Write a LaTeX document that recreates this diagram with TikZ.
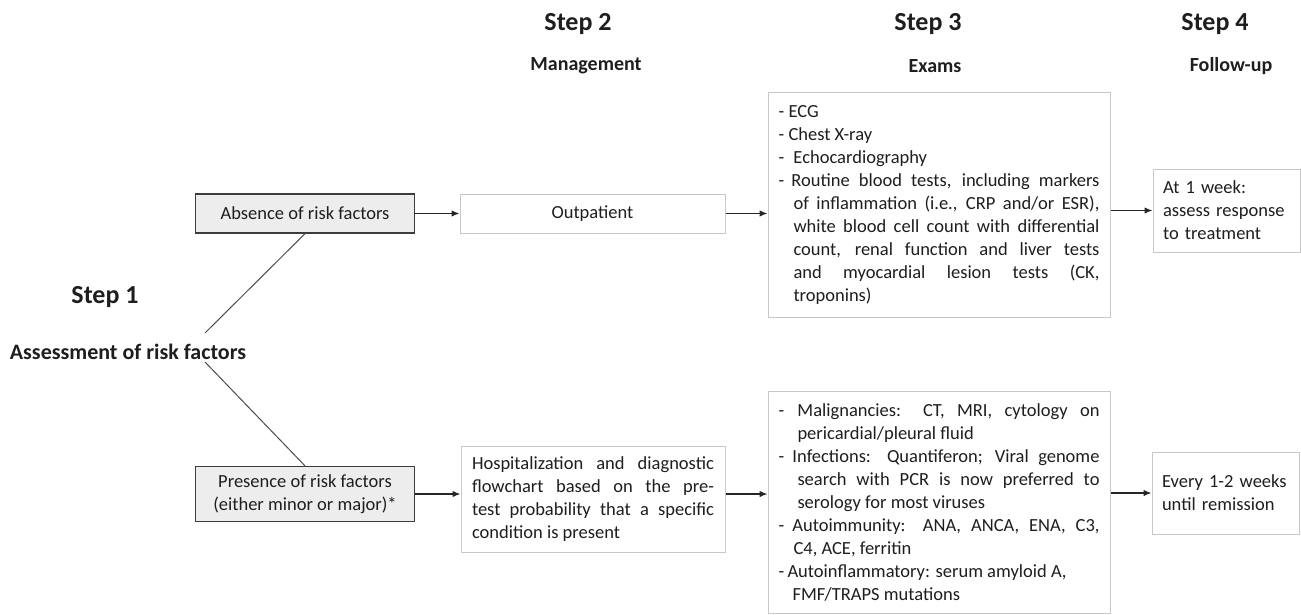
\documentclass[tikz,border=0pt]{standalone}
\usepackage{fontspec}
\setmainfont{Carlito}
\usepackage{xcolor}
\usepackage{tikz}
\usetikzlibrary{arrows.meta,calc,positioning}
\definecolor{riskfill}{RGB}{237,237,237}
\definecolor{riskline}{RGB}{60,60,60}
\definecolor{boxline}{RGB}{200,200,200}
\definecolor{inkgray}{RGB}{30,30,30}
\newcommand{\bodyfont}{\fontsize{18.5}{23}\selectfont\tolerance=10000\hbadness=10000}
\newcommand{\examitem}[3]{\hangindent=#1pt\hangafter=1\noindent\makebox[#2pt][l]{-}#3\par}

\begin{document}
\begin{tikzpicture}[
    x=1pt, y=-1pt,
    every node/.style={text=inkgray},
    steptitle/.style={font=\fontsize{26}{30}\selectfont\bfseries},
    stepsub/.style={font=\fontsize{20}{24}\selectfont\bfseries},
    riskbox/.style={rectangle, draw=riskline, fill=riskfill, line width=1.3pt, font=\bodyfont, align=center, minimum width=219pt, inner sep=0pt},
    plainbox/.style={rectangle, draw=boxline, fill=white, line width=1pt, font=\bodyfont},
    examtext/.style={plainbox, text width=321pt, align=justify, inner xsep=10.5pt},
    fupbox/.style={plainbox, text width=127pt, align=left, inner xsep=10pt},
    flow/.style={-{Latex[length=8pt,width=6.5pt]}, line width=1.3pt, draw=black!85},
    branch/.style={line width=1pt, draw=black!70}
]
\useasboundingbox (0,0) rectangle (1301,615);

% Headings
\node[steptitle] (step1) at (105,297) {Step 1};
\node[stepsub, font=\fontsize{22}{26}\selectfont\bfseries] (assess) at (128,352) {Assessment of risk factors};
\node[steptitle] (step2) at (578,24) {Step 2};
\node[stepsub] (manage) at (586,66) {Management};
\node[steptitle] (step3) at (928,24) {Step 3};
\node[stepsub] (exams) at (935,66) {Exams};
\node[steptitle] (step4) at (1215,24) {Step 4};
\node[stepsub] (follow) at (1231,66) {Follow-up};

% Nodes
\node[riskbox, minimum height=39pt] (absent) at (305,213.5) {Absence of risk factors};
\node[riskbox, minimum height=55pt] (present) at (305,494) {Presence of risk factors\\(either minor or major)*};
\node[plainbox, minimum width=265pt, minimum height=39pt] (outpt) at (592.5,213.5) {Outpatient};
\node[plainbox, text width=242pt, align=justify, inner xsep=11pt, minimum height=106pt] (hosp) at (593,499) {%
Hospitalization and diagnostic\linebreak flowchart based on the pre-\linebreak test probability that a specific\linebreak condition is present};
\node[examtext, minimum height=224pt] (exam1) at (939,205) {%
\examitem{15}{10}{ECG}
\examitem{15}{10}{Chest X-ray}
\examitem{15}{15}{Echocardiography}
\examitem{15}{13}{Routine blood tests, including markers\linebreak of inflammation (i.e., CRP and/or ESR),\linebreak white blood cell count with differential\linebreak count, renal function and liver tests\linebreak and myocardial lesion tests (CK,\linebreak troponins)}};
\node[examtext, minimum height=222pt] (exam2) at (939,502) {%
\examitem{19}{19}{Malignancies: CT, MRI, cytology on\linebreak pericardial/pleural fluid}
\examitem{19}{14}{Infections: Quantiferon; Viral genome\linebreak search with PCR is now preferred to\linebreak serology for most viruses}
\examitem{15}{14}{Autoimmunity: ANA, ANCA, ENA, C3,\linebreak C4, ACE, ferritin}
\examitem{14}{9}{Autoinflammatory: serum amyloid A,\newline FMF/TRAPS mutations}};
\node[fupbox, minimum height=83pt] (fup1) at (1226.5,210.5) {At 1 week:\\assess response\\to treatment};
\node[fupbox, minimum height=82pt] (fup2) at (1225.5,493) {Every 1-2 weeks\\until remission};

% Edges
\coordinate (splitup) at (205,333);
\coordinate (splitdn) at (205,362);
\draw[branch] (absent.south) -- (splitup);
\draw[branch] (splitdn) -- (present.north);
\draw[flow] (absent) -- (outpt);
\draw[flow] (outpt) -- (outpt -| exam1.west);
\draw[flow] (exam1.east |- fup1) -- (fup1);
\draw[flow] (present) -- (present -| hosp.west);
\draw[flow] (hosp.east |- present) -- (present -| exam2.west);
\draw[flow] (exam2.east |- fup2) -- (fup2);
\end{tikzpicture}
\end{document}
